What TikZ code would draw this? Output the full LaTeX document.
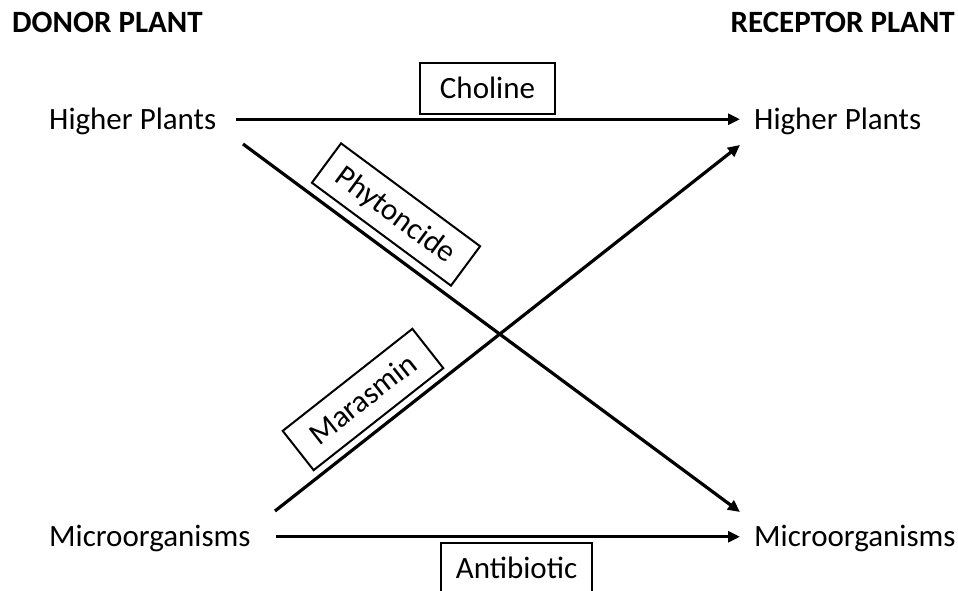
\documentclass[tikz,border=0pt]{standalone}
\usepackage{fontspec}
\setmainfont{Carlito}
\usetikzlibrary{arrows.meta}
\begin{document}
\begin{tikzpicture}[x=1pt,y=-1pt,
  hdr/.style={font=\fontsize{31}{37}\selectfont\bfseries, inner sep=0pt},
  lbl/.style={font=\fontsize{31}{37}\selectfont, inner sep=0pt, text height=19.5pt, text depth=0pt},
  subst/.style={draw, line width=2pt, font=\fontsize{31}{37}\selectfont, inner sep=0pt, text height=19.5pt, text depth=0pt},
  flow/.style={line width=3.2pt, -{Triangle[length=12pt,width=11pt]}}]
\useasboundingbox (0,0) rectangle (958,591);
% headers
\node[hdr, anchor=base west] (donor) at (12,33) {DONOR PLANT};
\node[hdr, anchor=base east] (recep) at (955,33) {RECEPTOR PLANT};
% organisms
\node[lbl, anchor=base west] (hpL) at (49,129) {Higher Plants};
\node[lbl, anchor=base west] (hpR) at (754,129) {Higher Plants};
\node[lbl, anchor=base west] (mL) at (49,546.5) {Microorganisms};
\node[lbl, anchor=base west] (mR) at (754,546.5) {Microorganisms};
% diagonal ends
\coordinate (pA) at (243,144);
\coordinate (pB) at (740,512);
\coordinate (mA) at (275,511);
\coordinate (mB) at (740,145);
% connectors
\draw[flow, shorten <=20pt, shorten >=14pt] (hpL.east) -- (hpR.west);
\draw[flow, shorten <=25pt, shorten >=14pt] (mL.east) -- (mR.west);
\draw[flow] (pA) -- (pB);
\draw[flow] (mA) -- (mB);
% substance boxes
\node[subst, minimum width=135pt, minimum height=51pt] (chol) at (487.5,88.5) {Choline};
\node[subst, minimum width=173pt, minimum height=49pt, rotate=-36.5] (phyt) at (396,214.5) {Phytoncide};
\node[subst, minimum width=165pt, minimum height=50pt, rotate=38.2] (mara) at (363,399.5) {Marasmin};
\begin{scope}
\clip (0,0) rectangle (958,591);
\node[subst, minimum width=151pt, minimum height=51pt] (anti) at (516.5,568.5) {Antibiotic};
\end{scope}
\end{tikzpicture}
\end{document}
